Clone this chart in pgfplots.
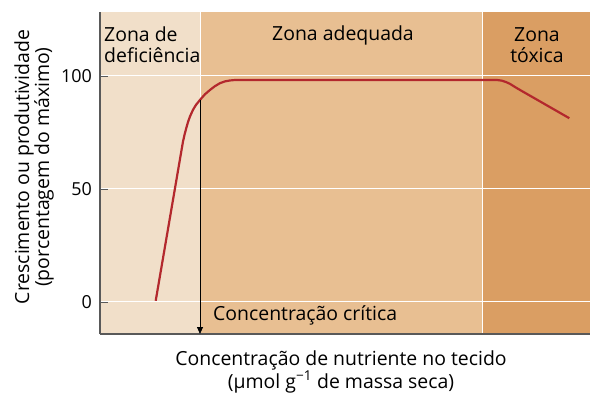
\documentclass[border=0pt]{standalone}
\usepackage{fontspec}
\setmainfont{Open Sans}
\usepackage{pgfplots}
\pgfplotsset{compat=1.18}
\usetikzlibrary{arrows.meta}
\definecolor{zdef}{HTML}{F1DFC9}
\definecolor{zade}{HTML}{E8BF92}
\definecolor{ztox}{HTML}{DA9E63}
\definecolor{curve}{HTML}{B3282D}
\definecolor{axgray}{HTML}{595959}
\begin{document}
\begin{tikzpicture}[font=\fontsize{19.5}{22}\selectfont, every node/.style={inner sep=0pt}]
\begin{axis}[
  name=ax,
  set layers,
  scale only axis,
  width=490bp, height=322bp,
  xmin=100, xmax=590, ymin=-14.2, ymax=128.3,
  axis x line*=bottom, axis y line*=left,
  axis line style={axgray, line width=1.2pt, -},
  xtick=\empty,
  extra x ticks={200,482},
  extra x tick labels={},
  extra x tick style={grid=major, major tick length=0pt},
  ytick={0,50,100},
  ymajorgrids,
  major grid style={white, line width=0.9pt},
  tick align=inside,
  major tick length=8bp,
  tick style={axgray, line width=0.8pt},
  yticklabel style={font=\fontsize{18}{22}\selectfont, xshift=-8bp},
  /pgf/number format/assume math mode=true,
  clip=false,
]
% zone backgrounds
\addplot[draw=none, fill=zdef, on layer=axis background] coordinates {(100,-14.2) (200,-14.2) (200,128.3) (100,128.3)} -- cycle;
\addplot[draw=none, fill=zade, on layer=axis background] coordinates {(200,-14.2) (482,-14.2) (482,128.3) (200,128.3)} -- cycle;
\addplot[draw=none, fill=ztox, on layer=axis background] coordinates {(482,-14.2) (590,-14.2) (590,128.3) (482,128.3)} -- cycle;
% response curve
\addplot[curve, line width=2.2pt, line join=round] coordinates {
  (155.7,0.5) (183.0,71.0) (184.5,73.9) (186,76.5) (188,79.6) (190,82.1)
  (193,85.0) (196,87.2) (200,89.4) (205,91.9) (210,93.8) (215,95.5)
  (220,96.8) (225,97.6) (230,98.0) (235,98.2) (497,98.2) (502,97.9)
  (506,97.3) (510,96.5) (515,95.1) (520,93.8) (569.3,81.3)
};
% critical concentration arrow
\draw[black, line width=0.8pt, -{Triangle[length=7bp,width=6bp]}] (axis cs:200,89.4) -- (axis cs:200,-14.2);
\node[anchor=base west] at (axis cs:213,-8.3) {Concentração crítica};
% zone labels (base = baseline of last line)
\node[anchor=base west, align=left] at (axis cs:104,105.75) {Zona de\\deficiência};
\node[anchor=base] at (axis cs:343,115.5) {Zona adequada};
\node[anchor=base, align=center] at (axis cs:537,105.75) {Zona\\tóxica};
% axis titles
\node[anchor=base, align=center, font=\fontsize{19.5}{18.5}\selectfont] at (axis cs:341,-14.2) [yshift=-54bp] {Concentração de nutriente no tecido\\(µmol g\textsuperscript{−1} de massa seca)};
\node[anchor=base, align=center, rotate=90, font=\fontsize{19.5}{20}\selectfont] at (axis cs:49,59.7) {Crescimento ou produtividade\\(porcentagem do máximo)};
\end{axis}
\pgfresetboundingbox
\path (ax.south west) ++(-100bp,-59bp) coordinate (bl);
\path (ax.north east) ++(0bp,12bp) coordinate (tr);
\path (bl) rectangle (tr);
\end{tikzpicture}
\end{document}
